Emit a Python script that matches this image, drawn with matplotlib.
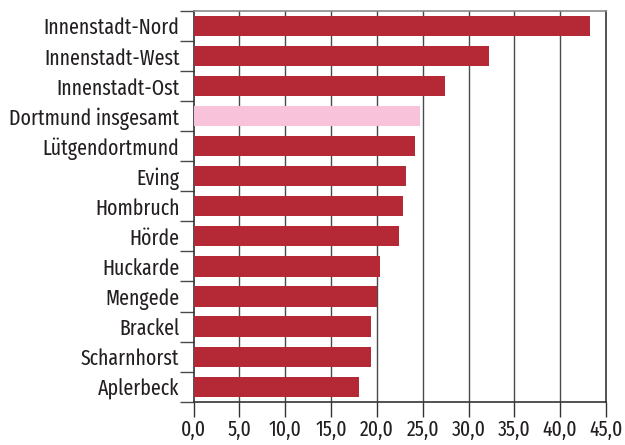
import matplotlib
matplotlib.use("Agg")
import matplotlib.pyplot as plt
import numpy as np

categories = ["Innenstadt-Nord", "Innenstadt-West", "Innenstadt-Ost", "Dortmund insgesamt",
              "Lütgendortmund", "Eving", "Hombruch", "Hörde", "Huckarde", "Mengede",
              "Brackel", "Scharnhorst", "Aplerbeck"]
values = [43.2, 32.2, 27.4, 24.7, 24.2, 23.2, 22.85, 22.4, 20.35, 20.0, 19.4, 19.4, 18.05]
highlight = "Dortmund insgesamt"
xticks = [0, 5, 10, 15, 20, 25, 30, 35, 40, 45]
xticklabels = ["0,0", "5,0", "10,0", "15,0", "20,0", "25,0", "30,0", "35,0", "40,0", "45,0"]

plt.rcParams['font.family'] = ['Fira Sans Extra Condensed', 'Roboto Condensed', 'DejaVu Sans']

RED = "#B52936"
PINK = "#F7C2DA"
TXT = "#231F20"

fig = plt.figure(figsize=(6.25, 4.45), dpi=100)
ax = fig.add_axes([193.5/625, 1-401.7/445, (606-193.5)/625, (401.7-11)/445])

n = len(categories)
y = np.arange(n)
colors = [PINK if c == highlight else RED for c in categories]
ax.barh(y, values, height=0.67, color=colors, zorder=3)

ax.set_ylim(n - 0.5, -0.5)
ax.set_xlim(0, 45)

for xv in xticks[1:-1]:
    ax.axvline(xv, color="#4a4a4a", lw=1.0, zorder=1)

ax.set_yticks(y)
ax.set_yticklabels(categories, fontsize=15.5, color=TXT)
ax.tick_params(axis='y', which='major', length=0, pad=10)
ax.set_yticks(np.arange(n + 1) - 0.5, minor=True)
ax.tick_params(axis='y', which='minor', length=10, width=1.0, color="#4a4a4a")

ax.set_xticks(xticks)
ax.set_xticklabels(xticklabels, fontsize=15.5, color=TXT)
ax.tick_params(axis='x', which='major', length=11, width=1.0, color="#333333", pad=1.5)

for side in ['left', 'right', 'bottom']:
    ax.spines[side].set_color("#333333")
    ax.spines[side].set_linewidth(1.2)
ax.spines['top'].set_color("#8a8a8a")
ax.spines['top'].set_linewidth(1.2)

fig.savefig("out.png", dpi=100)
